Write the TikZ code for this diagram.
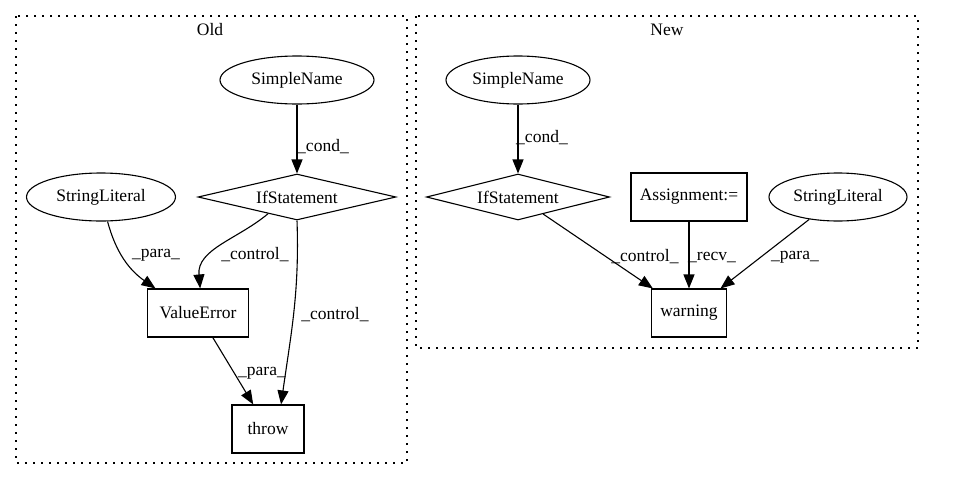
\documentclass[tikz,border=0pt]{standalone}
\usepackage{fontspec}
\setmainfont{Liberation Serif}
\usetikzlibrary{shapes.geometric,arrows.meta}
\begin{document}
\begin{tikzpicture}[x=1pt,y=-1pt,
  every node/.style={font=\fontsize{17.5}{21}\selectfont},
  ell/.style={draw,ellipse,line width=1.1pt,inner sep=0pt},
  box/.style={draw,rectangle,line width=1.1pt,inner sep=0pt,minimum height=48pt},
  dia/.style={draw,diamond,line width=1.1pt,inner sep=0pt,minimum height=46pt},
  arr/.style={line width=1.1pt,-{Triangle[length=14pt,width=11pt]}},
  clus/.style={draw,line width=1.3pt,dash pattern=on 2pt off 6pt},
  lab/.style={inner sep=0pt}]
\useasboundingbox (0,0) rectangle (975,480);
% clusters
\draw[clus] (16,16) rectangle (407,463);
\draw[clus] (416,16) rectangle (918,348);
\node[lab] (oldt) at (210,30) {Old};
\node[lab] (newt) at (667,30) {New};
% Old nodes
\node[ell,minimum width=154pt,minimum height=48pt] (osn) at (297,80) {SimpleName};
\node[dia,aspect=4.3,minimum width=198pt] (oif) at (297,197) {IfStatement};
\node[ell,minimum width=149pt,minimum height=48pt] (osl) at (101,197) {StringLiteral};
\node[box,minimum width=101pt] (ove) at (198,313) {ValueError};
\node[box,minimum width=72pt] (oth) at (268,429) {throw};
% Old edges
\draw[arr] (osn) -- (oif);
\draw[arr] (osl.-75) to[out=-75,in=145] (ove.150);
\draw[arr] (oif.-150) to[out=-140,in=95] (ove.85);
\draw[arr] (oif.south) to[out=-88,in=82] (oth.62);
\draw[arr] (ove) -- (oth);
\node[lab] (l1) at (323,147) {\_cond\_};
\node[lab] (l2) at (156,255) {\_para\_};
\node[lab] (l3) at (255,255) {\_control\_};
\node[lab] (l4) at (335,315) {\_control\_};
\node[lab] (l5) at (262,373) {\_para\_};
% New nodes
\node[ell,minimum width=144pt,minimum height=48pt] (nsn) at (518,80) {SimpleName};
\node[dia,aspect=4,minimum width=183pt] (nif) at (518,197) {IfStatement};
\node[box,minimum width=116pt] (nas) at (689,197) {Assignment:=};
\node[ell,minimum width=138pt,minimum height=48pt] (nsl) at (838,197) {StringLiteral};
\node[box,minimum width=75pt] (nwa) at (689,313) {warning};
% New edges
\draw[arr] (nsn) -- (nif);
\draw[arr] (nif) -- (nwa);
\draw[arr] (nas) -- (nwa);
\draw[arr] (nsl) -- (nwa);
\node[lab] (l6) at (542,138) {\_cond\_};
\node[lab] (l7) at (645,257) {\_control\_};
\node[lab] (l8) at (712,257) {\_recv\_};
\node[lab] (l9) at (795,257) {\_para\_};
\end{tikzpicture}
\end{document}
